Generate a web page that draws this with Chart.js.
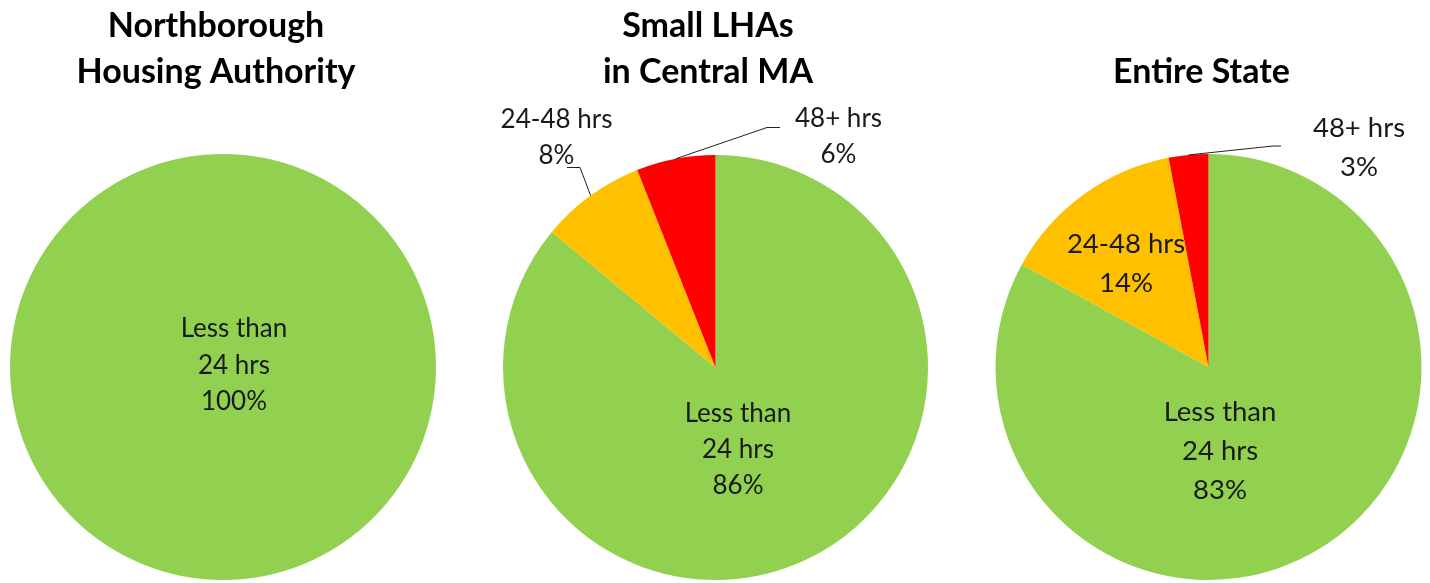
<!DOCTYPE html>
<html>
<head>
<meta charset="utf-8">
<script src="https://cdn.jsdelivr.net/npm/chart.js@4/dist/chart.umd.min.js"></script>
<style>
  body { margin: 0; background: #fff; width: 1430px; height: 583px; overflow: hidden; }
  canvas { position: absolute; top: 0; }
</style>
</head>
<body>
<canvas id="pie1" width="460" height="583" style="left:0px"></canvas>
<canvas id="pie2" width="460" height="583" style="left:485px"></canvas>
<canvas id="pie3" width="460" height="583" style="left:970px"></canvas>
<script>
// categories and values (percent of work orders)
const CATEGORIES = ["Less than 24 hrs", "24-48 hrs", "48+ hrs"];
const LABEL_LINES = [["Less than", "24 hrs"], ["24-48 hrs"], ["48+ hrs"]];
const NORTHBOROUGH = [100, 0, 0];
const CENTRAL_MA = [86, 8, 6];
const ENTIRE_STATE = [83, 14, 3];
const TITLES = [
  ["Northborough", "Housing Authority"],
  ["Small LHAs", "in Central MA"],
  ["Entire State"],
];
const COLORS = ["#92D050", "#FFC000", "#FF0000"];

const FONT = "Lato, 'Open Sans', sans-serif";

// draws titles and slice labels (with leader lines for the outside ones)
const sliceLabels = {
  id: "sliceLabels",
  afterDraw(chart, args, opts) {
    const ctx = chart.ctx;
    const values = chart.data.datasets[0].data;
    const arcs = chart.getDatasetMeta(0).data;
    ctx.save();
    ctx.fillStyle = "#000";
    ctx.textAlign = "center";
    ctx.textBaseline = "alphabetic";
    ctx.font = "bold " + opts.titleSize + "px " + FONT;
    opts.title.forEach((line, i) => {
      ctx.fillText(line, opts.titleX, opts.titleY[i]);
    });

    ctx.font = opts.size + "px " + FONT;
    ctx.fillStyle = "#1a1a1a";
    arcs.forEach((arc, i) => {
      const place = opts.place[i];
      if (!place || !values[i]) return;
      const lines = LABEL_LINES[i].concat([values[i] + "%"]);
      lines.forEach((line, k) => {
        ctx.fillText(line, arc.x + place.dx, arc.y + place.dy + k * opts.spacing);
      });
      if (place.leader) {
        const mid = (arc.startAngle + arc.endAngle) / 2;
        ctx.beginPath();
        ctx.moveTo(arc.x + Math.cos(mid) * arc.outerRadius, arc.y + Math.sin(mid) * arc.outerRadius);
        place.leader.forEach((p) => ctx.lineTo(arc.x + p[0], arc.y + p[1]));
        ctx.strokeStyle = "#222";
        ctx.lineWidth = 1;
        ctx.stroke();
      }
    });
    ctx.restore();
  },
};

function makePie(id, values, padding, labelOpts) {
  return new Chart(document.getElementById(id), {
    type: "pie",
    data: {
      labels: CATEGORIES,
      datasets: [{ data: values, backgroundColor: COLORS, borderWidth: 0 }],
    },
    options: {
      responsive: false,
      animation: false,
      devicePixelRatio: 1,
      layout: { padding: padding },
      plugins: {
        legend: { display: false },
        tooltip: { enabled: false },
        sliceLabels: labelOpts,
      },
    },
    plugins: [sliceLabels],
  });
}

makePie("pie1", NORTHBOROUGH, { left: 10, right: 24, top: 154, bottom: 3 }, {
  title: TITLES[0], titleX: 216, titleY: [37, 83], titleSize: 34,
  size: 26, spacing: 36.5,
  place: [{ dx: 11, dy: -30 }],
});

makePie("pie2", CENTRAL_MA, { left: 17.5, right: 16.5, top: 155, bottom: 3 }, {
  title: TITLES[1], titleX: 223, titleY: [37, 83], titleSize: 34,
  size: 26, spacing: 36,
  place: [
    { dx: 22.5, dy: 54 },
    { dx: -159, dy: -240, leader: [[-135.5, -200], [-148.5, -200]] },
    { dx: 123, dy: -241, leader: [[51.5, -240], [64.5, -240]] },
  ],
});

makePie("pie3", ENTIRE_STATE, { left: 25.5, right: 8.5, top: 154, bottom: 3 }, {
  title: TITLES[2], titleX: 231.5, titleY: [83], titleSize: 34,
  size: 27.5, spacing: 39,
  place: [
    { dx: 11.5, dy: 54 },
    { dx: -82.5, dy: -114 },
    { dx: 150.5, dy: -230, leader: [[64.5, -221], [72.5, -221]] },
  ],
});
</script>
</body>
</html>
